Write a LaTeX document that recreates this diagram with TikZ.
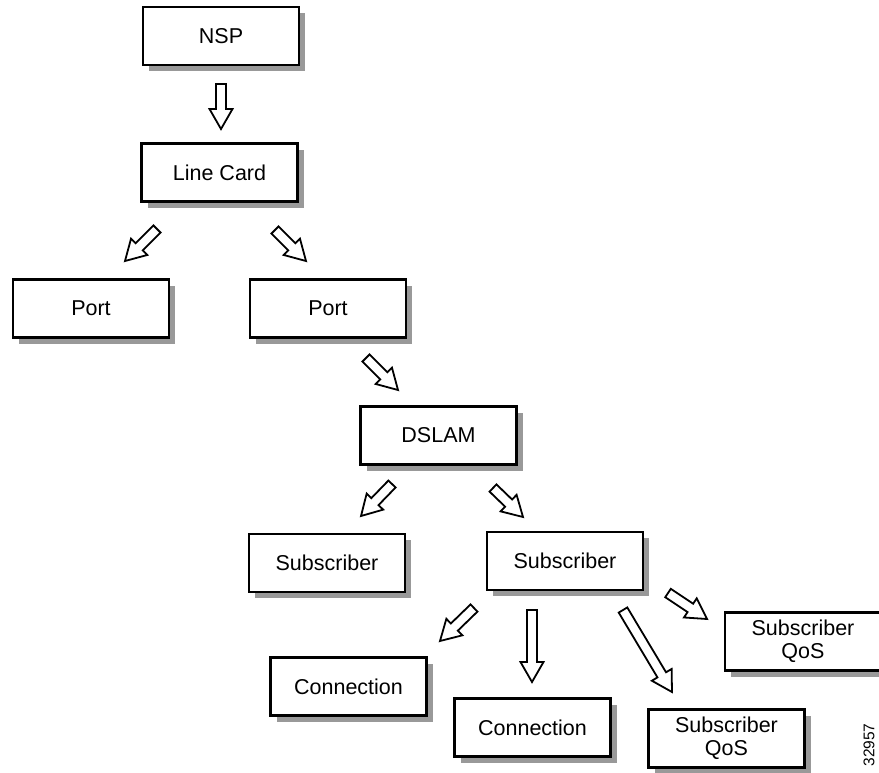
\documentclass[tikz,border=0pt]{standalone}
\usepackage{fontspec}
\setmainfont{Liberation Sans}
\usetikzlibrary{calc,shadows}

% hollow block arrow from #1 (tail) to #2 (tip)
\newcommand{\hollowarrow}[2]{%
  \coordinate (hb) at ($(#2)!20pt!(#1)$);
  \draw[harrow] ($(#1)!5pt!90:(#2)$) -- ($(hb)!5pt!90:(#2)$) -- ($(hb)!11.5pt!90:(#2)$)
    -- (#2) -- ($(hb)!11.5pt!-90:(#2)$) -- ($(hb)!5pt!-90:(#2)$) -- ($(#1)!5pt!-90:(#2)$) -- cycle;}

\begin{document}
\begin{tikzpicture}[x=1pt, y=-1pt,
    box/.style={draw, line width=2.5pt, fill=white, minimum width=156pt, minimum height=58pt,
      inner sep=0pt, align=center, font=\fontsize{21.5}{23}\selectfont,
      drop shadow={shadow xshift=6pt, shadow yshift=-6pt, fill=black!40, opacity=1}},
    harrow/.style={draw, line width=1.8pt, fill=white}]
        \useasboundingbox (0,0) rectangle (879,772);
        % boxes
        \node[box] (nsp) at (221,36) {NSP};
        \node[box] (lc) at (219.5,172.5) {Line Card};
        \node[box] (porta) at (91,308.5) {Port};
        \node[box] (portb) at (328,308.5) {Port};
        \node[box] (dslam) at (438.5,435.5) {DSLAM};
        \node[box] (suba) at (327,563) {Subscriber};
        \node[box] (subb) at (565,561) {Subscriber};
        \node[box] (conna) at (348.5,686.5) {Connection};
        \node[box] (connb) at (532.5,727.5) {Connection};
        \node[box] (qosa) at (803,641.5) {Subscriber\\QoS};
        \node[box] (qosb) at (726.5,738.5) {Subscriber\\QoS};
        \node[rotate=90, font=\fontsize{15.5}{16}\selectfont] (fig) at (869,745) {32957};
        % arrow ends
        \coordinate (t1) at (221,84);   \coordinate (h1) at (221,129);
        \coordinate (t2) at (157,229);  \coordinate (h2) at (125,261);
        \coordinate (t3) at (275,230);  \coordinate (h3) at (306,261);
        \coordinate (t4) at (366,358);  \coordinate (h4) at (398,390);
        \coordinate (t5) at (392,484);  \coordinate (h5) at (361,516);
        \coordinate (t6) at (493,488);  \coordinate (h6) at (523,517);
        \coordinate (t7) at (474,608);  \coordinate (h7) at (440,641);
        \coordinate (t8) at (532,610);  \coordinate (h8) at (532,682);
        \coordinate (t9) at (623,610);  \coordinate (h9) at (672,692);
        \coordinate (t10) at (668,593); \coordinate (h10) at (707,619);
        \hollowarrow{t1}{h1}
        \hollowarrow{t2}{h2}
        \hollowarrow{t3}{h3}
        \hollowarrow{t4}{h4}
        \hollowarrow{t5}{h5}
        \hollowarrow{t6}{h6}
        \hollowarrow{t7}{h7}
        \hollowarrow{t8}{h8}
        \hollowarrow{t9}{h9}
        \hollowarrow{t10}{h10}
    \end{tikzpicture}
\end{document}
